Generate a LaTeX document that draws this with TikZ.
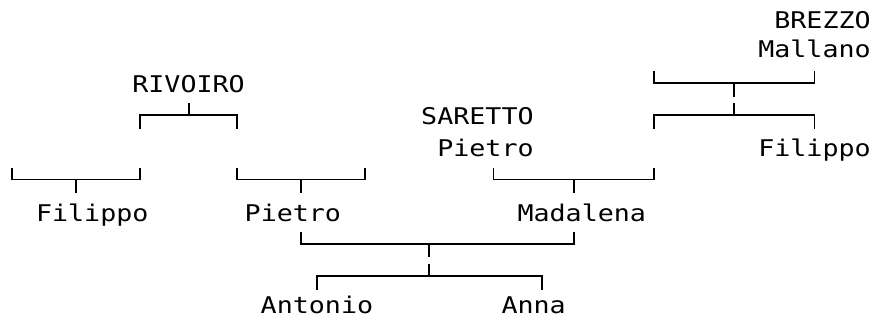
\documentclass[tikz,border=0pt]{standalone}
\usepackage{fontspec}
\newfontfamily\treemono[FakeStretch=1.16]{DejaVu Sans Mono}
\tikzset{
  lbl/.style={anchor=base, inner sep=0pt, outer sep=0pt, font=\treemono\fontsize{23}{23}\selectfont},
  conn/.style={line width=1.9pt, line join=miter, draw=black}
}
% bracket with ticks going up and stem going down
\newcommand\famUp[5]{%
  \coordinate (#1-l) at (#3,#2);
  \coordinate (#1-r) at (#4,#2);
  \coordinate (#1-s) at (#5,#2);
  \draw[conn] (#1-l) ++(0,-0.373) -- (#1-l) -- (#1-r) -- ++(0,-0.373);
  \draw[conn] (#1-s) -- ++(0,0.42);
}
% bracket with stem going up and ticks going down
\newcommand\famDown[5]{%
  \coordinate (#1-l) at (#3,#2);
  \coordinate (#1-r) at (#4,#2);
  \coordinate (#1-s) at (#5,#2);
  \draw[conn] (#1-l) ++(0,0.42) -- (#1-l) -- (#1-r) -- ++(0,0.42);
  \draw[conn] (#1-s) -- ++(0,-0.373);
}
\begin{document}
\begin{tikzpicture}[x=16.05pt, y=-32.17pt, shift={(12pt,-18.66pt)}]
\useasboundingbox (-0.7477,-0.58) rectangle (53.645,9.367);
% texts
\node[lbl] (brezzo)   at (50.5,0.32)  {BREZZO};
\node[lbl] (mallano)  at (50,1.2)     {Mallano};
\node[lbl] (rivoiro)  at (11,2.295)   {RIVOIRO};
\node[lbl] (saretto)  at (29,3.295)   {SARETTO};
\node[lbl] (pietroS)  at (29.5,4.295) {Pietro};
\node[lbl] (filippoR) at (50,4.295)   {Filippo};
\node[lbl] (filippoL) at (5,6.295)    {Filippo};
\node[lbl] (pietroL)  at (17.5,6.295) {Pietro};
\node[lbl] (madalena) at (35.5,6.295) {Madalena};
\node[lbl] (antonio)  at (19,9.17)    {Antonio};
\node[lbl] (anna)     at (32.5,9.17)  {Anna};
% connectors
\famUp{brzA}{2}{40}{50}{45}
\famDown{brzB}{3}{40}{50}{45}
\famDown{riv}{3}{8}{14}{11}
\famUp{filL}{5}{0}{8}{4}
\famUp{pieL}{5}{14}{22}{18}
\famUp{mad}{5}{30}{40}{35}
\famUp{parA}{7}{18}{35}{26}
\famDown{parB}{8}{19}{33}{26}
\end{tikzpicture}
\end{document}
